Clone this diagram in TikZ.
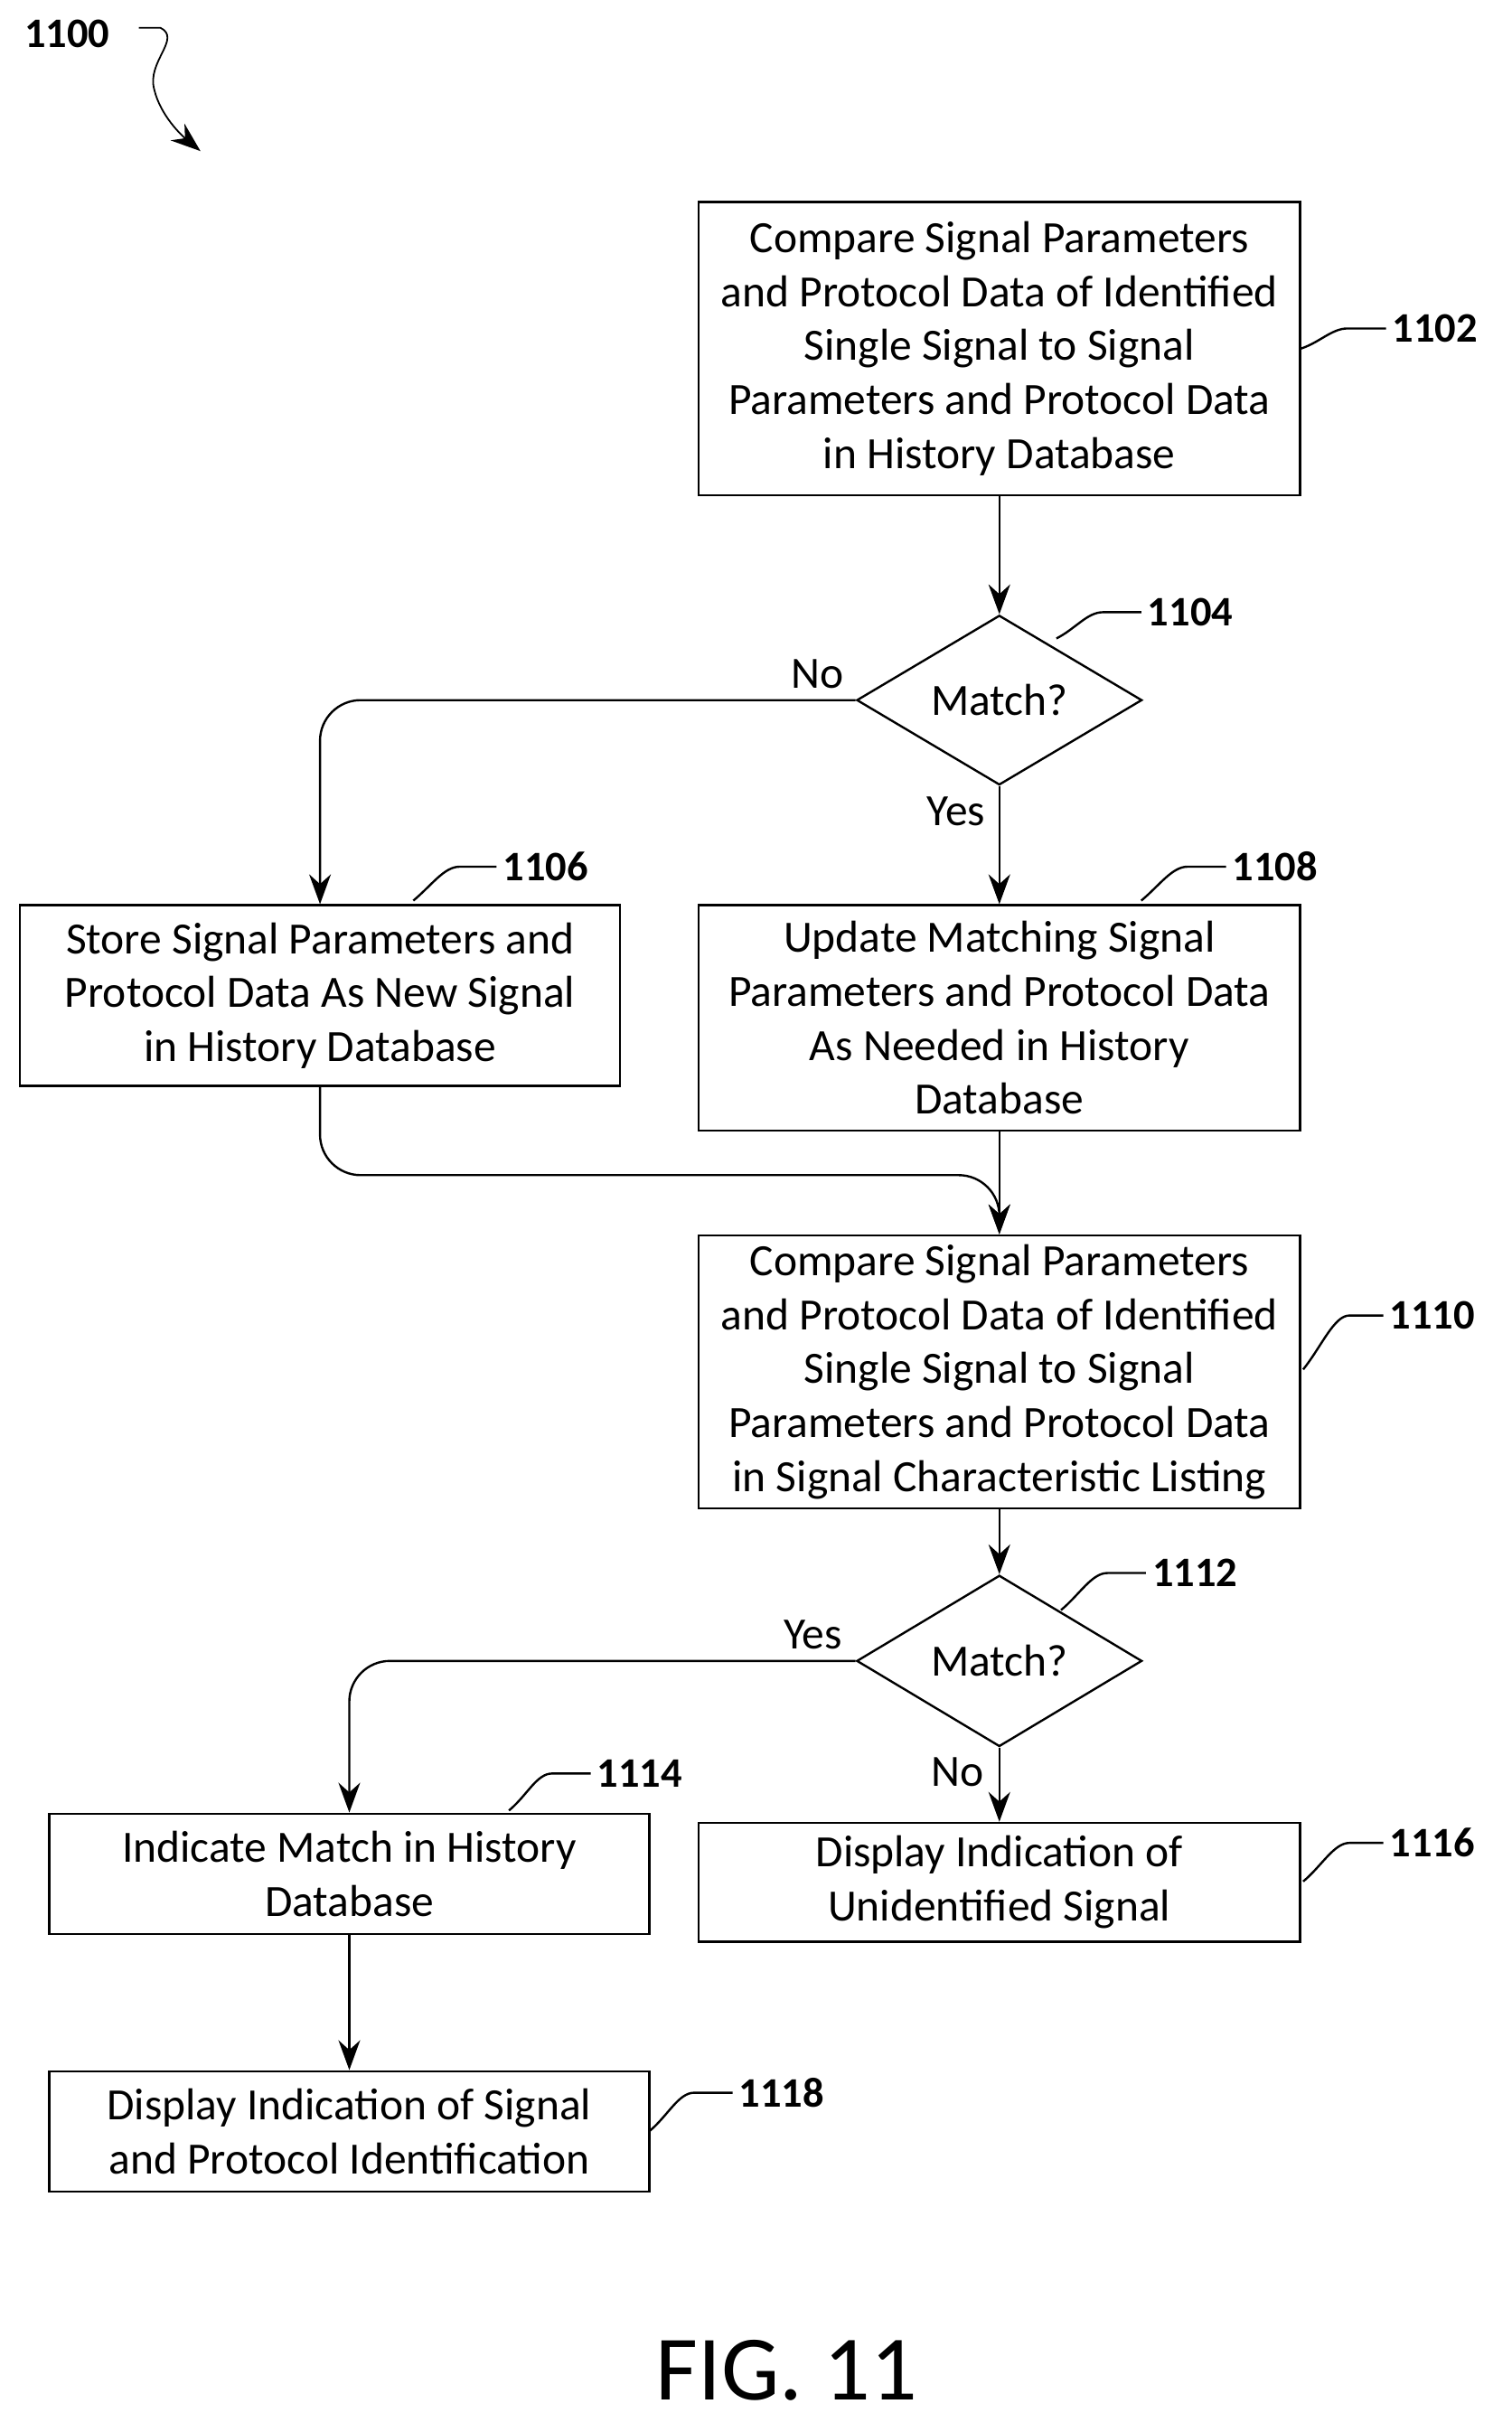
\documentclass[tikz,border=0pt]{standalone}
\usepackage{fontspec}
\setmainfont{Carlito}
\usetikzlibrary{positioning,shapes.geometric,arrows.meta}
\tikzset{
  box/.style={draw, thick, rectangle, align=center, inner sep=2pt, font=\fontsize{16.5}{19.9}\selectfont},
  dec/.style={draw, thick, diamond, aspect=1.7, inner sep=1pt, font=\fontsize{16.5}{19.9}\selectfont},
  arr/.style={thick, -{Stealth[length=11pt,width=8pt]}},
  lead/.style={thick},
  num/.style={font=\bfseries\fontsize{15.5}{17}\selectfont, right, inner sep=2pt},
  lbl/.style={font=\fontsize{16.5}{17}\selectfont}
}
\begin{document}
\begin{tikzpicture}[x=0.02cm, y=-0.02cm]
\useasboundingbox (0,0) rectangle (980,1577);
% boxes
\node[box, minimum width=390*0.02cm, minimum height=190*0.02cm] (b1102) at (648,226) {Compare Signal Parameters\\and Protocol Data of Identified\\Single Signal to Signal\\Parameters and Protocol Data\\in History Database};
\node[dec, minimum width=185*0.02cm, minimum height=110*0.02cm] (d1104) at (648,454) {Match?};
\node[box, minimum width=389*0.02cm, minimum height=117*0.02cm] (b1106) at (207.5,645.5) {Store Signal Parameters and\\Protocol Data As New Signal\\in History Database};
\node[box, minimum width=390*0.02cm, minimum height=146*0.02cm] (b1108) at (648,660) {Update Matching Signal\\Parameters and Protocol Data\\As Needed in History\\Database};
\node[box, minimum width=390*0.02cm, minimum height=177*0.02cm] (b1110) at (648,889.5) {Compare Signal Parameters\\and Protocol Data of Identified\\Single Signal to Signal\\Parameters and Protocol Data\\in Signal Characteristic Listing};
\node[dec, minimum width=185*0.02cm, minimum height=111*0.02cm] (d1112) at (648,1077) {Match?};
\node[box, minimum width=389*0.02cm, minimum height=78*0.02cm] (b1114) at (226.5,1215) {Indicate Match in History\\Database};
\node[box, minimum width=390*0.02cm, minimum height=77*0.02cm] (b1116) at (648,1220.5) {Display Indication of\\Unidentified Signal};
\node[box, minimum width=389*0.02cm, minimum height=78*0.02cm] (b1118) at (226.5,1382) {Display Indication of Signal\\and Protocol Identification};
% connectors
\draw[arr] (b1102) -- (d1104);
\draw[arr, rounded corners=15pt] (d1104.west) -| (b1106.north);
\draw[arr] (d1104) -- (b1108);
\draw[arr] (b1108) -- (b1110);
\draw[arr, rounded corners=15pt] (b1106.south) |- (648,762) -- (b1110.north);
\draw[arr] (b1110) -- (d1112);
\draw[arr, rounded corners=15pt] (d1112.west) -| (b1114.north);
\draw[arr] (d1112) -- (b1116);
\draw[arr] (b1114) -- (b1118);
\node[lbl] (no1) at (530,437) {No};
\node[lbl] (yes1) at (620,526) {Yes};
\node[lbl] (yes2) at (527,1060) {Yes};
\node[lbl] (no2) at (621,1149) {No};
% reference numbers
\draw[lead] (b1102.east) .. controls +(12,-4) and +(-10,0) .. ++(30,-13) -- ++(25,0) node[num] {1102};
\draw[lead] (685,414) .. controls +(12,-6) and +(-10,0) .. (715,397) -- (740,397) node[num] {1104};
\draw[lead] (268,584) .. controls +(12,-10) and +(-10,0) .. (298,562) -- (322,562) node[num] {1106};
\draw[lead] (740,584) .. controls +(12,-10) and +(-10,0) .. (770,562) -- (795,562) node[num] {1108};
\draw[lead] (845,888) .. controls +(12,-15) and +(-10,0) .. (875,853) -- (897,853) node[num] {1110};
\draw[lead] (688,1044) .. controls +(12,-10) and +(-10,0) .. (718,1020) -- (743,1020) node[num] {1112};
\draw[lead] (330,1174) .. controls +(12,-10) and +(-10,0) .. (358,1150) -- (383,1150) node[num] {1114};
\draw[lead] (845,1220) .. controls +(12,-10) and +(-10,0) .. (875,1195) -- (897,1195) node[num] {1116};
\draw[lead] (421,1382) .. controls +(12,-10) and +(-10,0) .. (450,1357) -- (475,1357) node[num] {1118};
\node[num, left] (n1100) at (75,22) {1100};
\draw[semithick, -{Stealth[length=11pt,width=8pt]}] (90,18) -- (104,18) .. controls (118,25) and (95,40) .. (100,58) .. controls (104,75) and (118,88) .. (130,98);
\node[font=\fontsize{34}{40}\selectfont] (fig) at (510,1537) {FIG. 11};
\end{tikzpicture}
\end{document}
